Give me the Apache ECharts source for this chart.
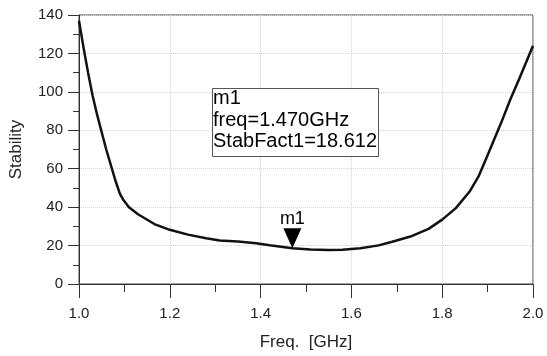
<!DOCTYPE html>
<html>
<head>
<meta charset="utf-8">
<script src="https://cdn.jsdelivr.net/npm/echarts@6/dist/echarts.min.js"></script>
<style>
  html, body { margin: 0; padding: 0; background: #fff; }
  #chart { width: 547px; height: 356px; }
</style>
</head>
<body>
<div id="chart"></div>
<script>
// 频率 (GHz)
const freq = [1.000, 1.010, 1.020, 1.030, 1.040, 1.050, 1.060, 1.070, 1.080, 1.090, 1.097,
    1.110, 1.130, 1.166, 1.200, 1.240, 1.280, 1.310, 1.350, 1.390, 1.420, 1.470, 1.510,
    1.550, 1.580, 1.620, 1.660, 1.690, 1.730, 1.770, 1.800, 1.830, 1.860, 1.880, 1.900,
    1.930, 1.950, 1.970, 2.000];
// 稳定系数
const stab = [137, 123, 110, 98, 88, 79, 70, 62, 54, 47, 44,
    40, 36.3, 31.2, 28.2, 25.7, 23.8, 22.6, 22.1, 21.2, 20.2, 18.612, 18.0,
    17.7, 17.8, 18.6, 20.1, 22, 24.7, 28.7, 33.5, 39.5, 48, 56, 67,
    84, 96, 107, 124];
// marker
const markerName = 'm1';
const markerFreq = 1.470;
const markerValue = 18.612;

const font = 'Liberation Sans, Arial, sans-serif';

const chart = echarts.init(document.querySelector('#chart'));
chart.setOption({
    animation: false,
    grid: {
        left: 78,
        right: 14,
        top: 15,
        bottom: 69,
        show: true,
        borderColor: '#444',
        borderWidth: 1,
    },
    xAxis: {
        type: 'value',
        min: 1,
        max: 2,
        interval: 0.2,
        name: 'Freq.  [GHz]',
        nameLocation: 'middle',
        nameGap: 50,
        nameTextStyle: { color: '#222', fontSize: 17, fontFamily: font },
        axisLine: { lineStyle: { color: '#333' } },
        axisTick: { length: 14, lineStyle: { color: '#333' } },
        minorTick: { show: true, splitNumber: 2, length: 8, lineStyle: { color: '#333' } },
        axisLabel: {
            color: '#222',
            fontSize: 15,
            fontFamily: font,
            margin: 22,
            formatter: v => v.toFixed(1),
        },
        splitLine: { show: true, lineStyle: { color: '#d4d4d4', type: 'dotted' } },
    },
    yAxis: {
        type: 'value',
        min: 0,
        max: 140,
        interval: 20,
        name: 'Stability',
        nameLocation: 'middle',
        nameGap: 54,
        nameTextStyle: { color: '#222', fontSize: 17, fontFamily: font },
        axisLine: { show: true, lineStyle: { color: '#333' } },
        axisTick: { show: true, length: 11, lineStyle: { color: '#333' } },
        minorTick: { show: true, splitNumber: 2, length: 6, lineStyle: { color: '#333' } },
        axisLabel: { color: '#222', fontSize: 15, fontFamily: font, margin: 16 },
        splitLine: { show: true, lineStyle: { color: '#d4d4d4', type: 'dotted' } },
    },
    series: [
        {
            type: 'line',
            data: freq.map((f, i) => [f, stab[i]]),
            showSymbol: false,
            lineStyle: { color: '#111', width: 2.5 },
            markPoint: {
                symbol: 'triangle',
                symbolSize: [18, 20],
                symbolRotate: 180,
                symbolOffset: [0, -10],
                itemStyle: { color: '#000' },
                label: {
                    show: true,
                    position: 'top',
                    distance: 0,
                    formatter: markerName,
                    color: '#000',
                    fontSize: 18,
                    fontFamily: font,
                },
                data: [{ coord: [markerFreq, markerValue] }],
            },
        },
    ],
    graphic: [
        {
            type: 'rect',
            left: 212,
            top: 88,
            shape: { width: 166, height: 68 },
            style: { fill: '#fff', stroke: '#555', lineWidth: 1 },
            z: 10,
        },
        {
            type: 'text',
            left: 213,
            top: 88,
            style: {
                text: `${ markerName }\nfreq=${ markerFreq.toFixed(3) }GHz\nStabFact1=${ markerValue.toFixed(3) }`,
                fill: '#000',
                fontSize: 20,
                lineHeight: 21.5,
                fontFamily: font,
            },
            z: 11,
        },
    ],
});
</script>
</body>
</html>
